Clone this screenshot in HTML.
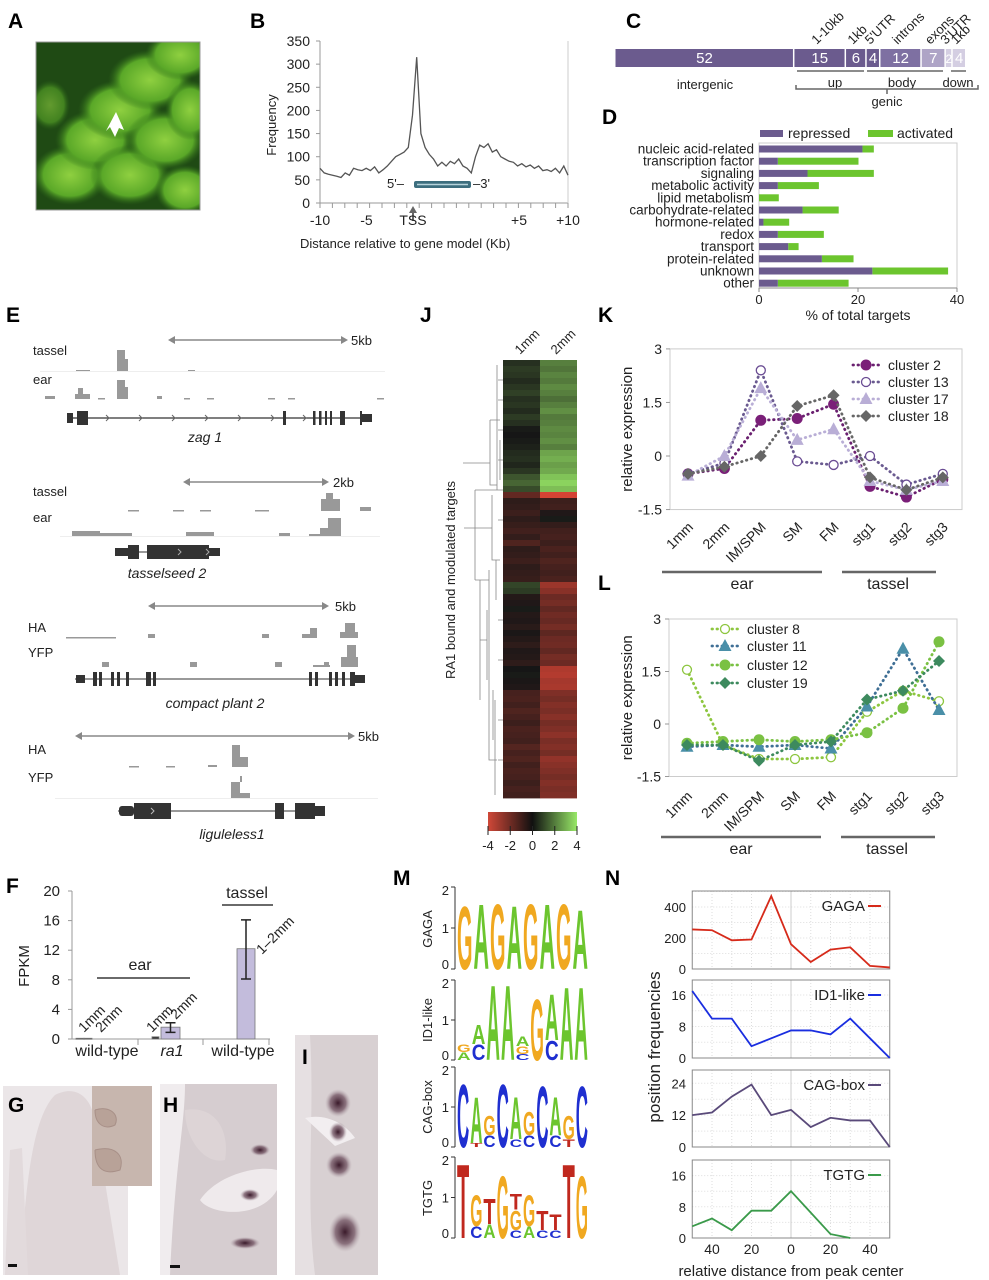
<!DOCTYPE html>
<html><head><meta charset="utf-8">
<style>
body{margin:0;background:#fff}
svg{display:block;font-family:"Liberation Sans",sans-serif}
.pl{font-weight:bold;font-size:21px;fill:#000}
.t{font-size:13px;fill:#222}
.it{font-size:14px;fill:#222;font-style:italic}
</style></head><body>
<svg id="fig" width="989" height="1280" viewBox="0 0 989 1280">
<defs>
<radialGradient id="gblob" cx="50%" cy="50%" r="50%"><stop offset="0" stop-color="#8fd040"/><stop offset="0.7" stop-color="#5aa828"/><stop offset="1" stop-color="#2d6a18" stop-opacity="0"/></radialGradient>
<linearGradient id="cbar" x1="0" x2="1" y1="0" y2="0"><stop offset="0" stop-color="#d04838"/><stop offset="0.5" stop-color="#101010"/><stop offset="1" stop-color="#98e868"/></linearGradient>
<radialGradient id="spot" cx="50%" cy="50%" r="50%"><stop offset="0" stop-color="#3a1a2a"/><stop offset="0.6" stop-color="#6a4a5a" stop-opacity="0.7"/><stop offset="1" stop-color="#b0a0a8" stop-opacity="0"/></radialGradient>
<clipPath id="clipA"><rect x="36" y="42" width="164" height="168"/></clipPath>
</defs>

<!-- Panel labels -->
<text class="pl" x="8" y="28">A</text>
<text class="pl" x="250" y="28">B</text>
<text class="pl" x="626" y="28">C</text>
<text class="pl" x="602" y="124">D</text>
<text class="pl" x="6" y="322">E</text>
<text class="pl" x="420" y="322">J</text>
<text class="pl" x="598" y="322">K</text>
<text class="pl" x="598" y="590">L</text>
<text class="pl" x="6" y="893">F</text>
<text class="pl" x="393" y="885">M</text>
<text class="pl" x="605" y="885">N</text>

<!-- Panel A image -->
<g>
<rect x="36" y="42" width="164" height="168" fill="#1f4a14"/>
<g clip-path="url(#clipA)">
<ellipse cx="70" cy="175" rx="38" ry="30" fill="url(#gblob)"/>
<ellipse cx="95" cy="140" rx="40" ry="30" fill="url(#gblob)"/>
<ellipse cx="120" cy="110" rx="42" ry="30" fill="url(#gblob)"/>
<ellipse cx="150" cy="80" rx="42" ry="30" fill="url(#gblob)"/>
<ellipse cx="180" cy="55" rx="35" ry="25" fill="url(#gblob)"/>
<ellipse cx="130" cy="175" rx="40" ry="30" fill="url(#gblob)"/>
<ellipse cx="165" cy="140" rx="40" ry="30" fill="url(#gblob)"/>
<ellipse cx="190" cy="110" rx="25" ry="30" fill="url(#gblob)"/>
<ellipse cx="185" cy="190" rx="30" ry="25" fill="url(#gblob)"/>
<ellipse cx="50" cy="105" rx="20" ry="25" fill="url(#gblob)" opacity="0.6"/>
</g>
<path d="M116,112 L124,130 L119,128 L115,137 L110,127 L106,131 Z" fill="#fff"/>
<rect x="36" y="42" width="164" height="168" fill="none" stroke="#999" stroke-width="1"/>
</g>

<!-- Panel B static -->
<g id="gB">
<text class="t" font-size="16" transform="translate(276,125) rotate(-90)" text-anchor="middle">Frequency</text>
<text class="t" font-size="16" x="300" y="248">Distance relative to gene model (Kb)</text>
<text class="t" x="404" y="188" text-anchor="end">5'–</text>
<text class="t" x="473" y="188">–3'</text>
<rect x="414" y="181" width="57" height="7" rx="2" fill="#3d6e7e"/>
<line x1="417" y1="184.5" x2="468" y2="184.5" stroke="#b8d4dc" stroke-width="1.5"/>
<path d="M413,206 l-4,7 h3 v8 h2 v-8 h3 z" fill="#666"/>
</g>

<!-- Panel C static labels -->
<g id="gC">
<text class="t" x="705" y="89" text-anchor="middle" font-size="14">intergenic</text>
<line x1="797" y1="71" x2="864" y2="71" stroke="#666" stroke-width="1.5"/>
<line x1="867" y1="71" x2="943" y2="71" stroke="#666" stroke-width="1.5"/>
<line x1="951" y1="71" x2="966" y2="71" stroke="#666" stroke-width="1.5"/>
<text class="t" x="835" y="87" text-anchor="middle" font-size="14">up</text>
<text class="t" x="902" y="87" text-anchor="middle" font-size="14">body</text>
<text class="t" x="958" y="87" text-anchor="middle" font-size="14">down</text>
<path d="M796,85 v4 H978 v-4 M887,89 v5" fill="none" stroke="#666" stroke-width="1.5"/>
<text class="t" x="887" y="106" text-anchor="middle" font-size="14">genic</text>
</g>

<!-- Panel E -->
<g fill="#999">
<g>
<line x1="172" y1="340" x2="344" y2="340" stroke="#888" stroke-width="1.5"/>
<path d="M168,340 l7,-4 v8 z M348,340 l-7,-4 v8 z" fill="#888"/>
<text class="t" x="351" y="345" font-size="14">5kb</text>
<text class="t" x="33" y="355" font-size="14">tassel</text>
<text class="t" x="33" y="384" font-size="14">ear</text>
<rect x="117" y="350" width="8" height="21"/><rect x="125" y="359" width="3" height="12"/>
<rect x="76" y="370" width="14" height="1.5"/><rect x="188" y="370" width="7" height="1.5"/>
<line x1="40" y1="371.5" x2="385" y2="371.5" stroke="#eee"/>
<rect x="117" y="380" width="8" height="19"/><rect x="125" y="387" width="3" height="12"/>
<rect x="78" y="388" width="5" height="11"/><rect x="75" y="394" width="15" height="5"/>
<rect x="45" y="396" width="10" height="3"/><rect x="157" y="396" width="5" height="3"/>
<rect x="98" y="398" width="7" height="1.5"/><rect x="184" y="398" width="6" height="1.5"/><rect x="207" y="398" width="7" height="1.5"/><rect x="268" y="398" width="7" height="1.5"/><rect x="288" y="398" width="7" height="1.5"/><rect x="377" y="398" width="7" height="1.5"/>
<g fill="#333">
<line x1="67" y1="418" x2="372" y2="418" stroke="#333" stroke-width="1.2"/>
<rect x="67" y="413" width="6" height="10"/><rect x="77" y="411" width="11" height="14"/>
<rect x="283" y="411" width="3" height="14"/>
<rect x="313" y="411" width="2.5" height="14"/><rect x="319" y="411" width="2.5" height="14"/><rect x="325" y="411" width="2" height="14"/><rect x="330" y="411" width="2" height="14"/>
<rect x="340" y="411" width="5" height="14"/><rect x="360" y="411" width="2" height="14"/><rect x="362" y="414" width="10" height="8"/>
</g>
<g fill="none" stroke="#666" stroke-width="1"><path d="M106,415 l3,3 l-3,3 M139,415 l3,3 l-3,3 M172,415 l3,3 l-3,3 M205,415 l3,3 l-3,3 M238,415 l3,3 l-3,3 M271,415 l3,3 l-3,3 M303,415 l3,3 l-3,3"/></g>
<text class="it" x="205" y="442" text-anchor="middle" font-size="15">zag 1</text>
</g>
<g>
<line x1="187" y1="482" x2="324" y2="482" stroke="#888" stroke-width="1.5"/>
<path d="M183,482 l7,-4 v8 z M329,482 l-7,-4 v8 z" fill="#888"/>
<text class="t" x="333" y="487" font-size="14">2kb</text>
<text class="t" x="33" y="496" font-size="14">tassel</text>
<text class="t" x="33" y="522" font-size="14">ear</text>
<rect x="321" y="499" width="19" height="12"/><rect x="326" y="493" width="7" height="6"/>
<rect x="360" y="507" width="11" height="4"/>
<rect x="128" y="510" width="11" height="1.5"/><rect x="173" y="510" width="11" height="1.5"/><rect x="200" y="510" width="11" height="1.5"/><rect x="255" y="510" width="14" height="1.5"/>
<rect x="328" y="518" width="13" height="18"/><rect x="320" y="528" width="8" height="8"/><rect x="309" y="534" width="11" height="2"/>
<rect x="72" y="531" width="28" height="5"/><rect x="100" y="533" width="32" height="3"/>
<rect x="186" y="532" width="28" height="4"/><rect x="279" y="533" width="11" height="3"/>
<line x1="60" y1="536.5" x2="380" y2="536.5" stroke="#eee"/>
<g fill="#333"><line x1="115" y1="552" x2="220" y2="552" stroke="#333"/>
<rect x="115" y="548" width="13" height="8"/><rect x="128" y="545" width="11" height="14"/><rect x="147" y="545" width="62" height="14"/><rect x="209" y="548" width="11" height="8"/></g>
<path d="M178,549 l3,3 l-3,3 M206,549 l3,3 l-3,3" stroke="#aaa" fill="none"/>
<text class="it" x="167" y="578" text-anchor="middle" font-size="15">tasselseed 2</text>
</g>
<g>
<line x1="152" y1="606" x2="324" y2="606" stroke="#888" stroke-width="1.5"/>
<path d="M148,606 l7,-4 v8 z M329,606 l-7,-4 v8 z" fill="#888"/>
<text class="t" x="335" y="611" font-size="14">5kb</text>
<text class="t" x="28" y="632" font-size="14">HA</text>
<text class="t" x="28" y="657" font-size="14">YFP</text>
<rect x="148" y="634" width="7" height="4"/><rect x="262" y="634" width="7" height="4"/><rect x="302" y="634" width="15" height="4"/><rect x="310" y="628" width="7" height="10"/><rect x="340" y="632" width="18" height="6"/><rect x="345" y="623" width="10" height="9"/>
<rect x="66" y="637" width="50" height="1.5"/>
<rect x="102" y="662" width="7" height="5"/><rect x="190" y="662" width="7" height="5"/><rect x="275" y="662" width="7" height="5"/><rect x="313" y="665" width="17" height="2"/><rect x="324" y="662" width="5" height="5"/><rect x="341" y="657" width="17" height="10"/><rect x="347" y="645" width="9" height="12"/>
<g fill="#333"><line x1="75" y1="679" x2="365" y2="679" stroke="#333"/>
<rect x="76" y="675" width="9" height="8"/><rect x="93" y="672" width="4" height="14"/><rect x="99" y="672" width="3" height="14"/><rect x="111" y="672" width="3" height="14"/><rect x="117" y="672" width="3" height="14"/><rect x="126" y="672" width="3" height="14"/><rect x="146" y="672" width="5" height="14"/><rect x="153" y="672" width="3" height="14"/>
<rect x="309" y="672" width="3" height="14"/><rect x="315" y="672" width="3" height="14"/><rect x="329" y="672" width="3" height="14"/><rect x="335" y="672" width="3" height="14"/><rect x="342" y="672" width="3" height="14"/><rect x="350" y="672" width="5" height="14"/><rect x="355" y="675" width="10" height="8"/></g>
<text class="it" x="215" y="708" text-anchor="middle" font-size="15">compact plant 2</text>
</g>
<g>
<line x1="80" y1="736" x2="350" y2="736" stroke="#888" stroke-width="1.5"/>
<path d="M75,736 l7,-4 v8 z M355,736 l-7,-4 v8 z" fill="#888"/>
<text class="t" x="358" y="741" font-size="14">5kb</text>
<text class="t" x="28" y="754" font-size="14">HA</text>
<text class="t" x="28" y="782" font-size="14">YFP</text>
<rect x="232" y="745" width="8" height="22"/><rect x="240" y="757" width="8" height="10"/>
<rect x="129" y="766" width="10" height="1.5"/><rect x="166" y="766" width="9" height="1.5"/><rect x="208" y="765" width="9" height="2"/>
<rect x="231" y="782" width="9" height="16"/><rect x="240" y="776" width="2" height="6"/><rect x="240" y="793" width="10" height="5"/>
<line x1="55" y1="798.5" x2="378" y2="798.5" stroke="#eee"/>
<g fill="#333"><line x1="118" y1="811" x2="325" y2="811" stroke="#333"/>
<rect x="119" y="806" width="15" height="10" rx="3"/><rect x="134" y="803" width="37" height="16"/><rect x="275" y="803" width="9" height="16"/><rect x="295" y="803" width="20" height="16"/><rect x="315" y="806" width="10" height="10"/></g>
<path d="M151,808 l3,3 l-3,3" stroke="#bbb" fill="none"/>
<text class="it" x="232" y="839" text-anchor="middle" font-size="15">liguleless1</text>
</g>
</g>

<!-- Panel J static -->
<g>
<text class="t" font-size="14" transform="translate(520,355) rotate(-45)">1mm</text>
<text class="t" font-size="14" transform="translate(556,355) rotate(-45)">2mm</text>
<text class="t" font-size="15" transform="translate(455,580) rotate(-90)" text-anchor="middle">RA1 bound and modulated targets</text>
<g fill="none" stroke="#888" stroke-width="0.8">
<path d="M463,463 H490 M490,420 V485 H497 M490,420 H500 M475,490 H503 M475,490 V580 M464,528 H475 M475,528 H492 M492,495 V560 H500 M475,580 H489 M489,570 V760 H497 M480,580 V700 M480,640 H487 M487,610 V680"/>
<path d="M497,365 V490 M500,440 V480 M496,560 V600 M495,700 V795 M493,690 V740 M498,380 H503 M498,400 H503 M498,430 H503 M498,460 H503 M498,520 H503 M498,620 H503 M498,660 H503 M498,720 H503 M498,760 H503"/>
</g>
<rect x="488" y="812" width="89" height="19" fill="url(#cbar)"/>
</g>

<!-- Panel M static labels -->
<g id="gM">
<text class="t" font-size="17" transform="translate(432,929) rotate(-90)" text-anchor="middle">GAGA</text>
<text class="t" font-size="17" transform="translate(432,1020) rotate(-90)" text-anchor="middle">ID1-like</text>
<text class="t" font-size="17" transform="translate(432,1107) rotate(-90)" text-anchor="middle">CAG-box</text>
<text class="t" font-size="17" transform="translate(432,1198) rotate(-90)" text-anchor="middle">TGTG</text>
</g>

<!-- Photos G, H, I -->
<g>
<rect x="3" y="1086" width="125" height="189" fill="#ebe6e8"/>
<path d="M20,1275 C25,1200 30,1120 55,1095 C75,1085 90,1095 95,1120 L120,1275 Z" fill="#dfd6d8"/>
<path d="M5,1275 L10,1150 L22,1148 L28,1275Z" fill="#e2dadc"/>
<rect x="92" y="1086" width="60" height="100" fill="#c7b6ae"/>
<path d="M95,1110 c15,-5 25,5 20,15 c-10,5 -20,0 -20,-15 M95,1150 c20,-5 30,5 25,20 c-15,5 -25,0 -25,-20" fill="#b8a298" stroke="#a89088"/>
<rect x="8" y="1264" width="9" height="3" fill="#111"/>
<text class="pl" x="8" y="1112" font-size="22">G</text>
</g>
<g>
<rect x="160" y="1084" width="117" height="191" fill="#d6cdd0"/>
<path d="M160,1084 h25 c0,40 -10,80 -15,191 h-10z" fill="#f0ecee"/>
<path d="M185,1110 c30,-5 45,20 40,50 c-20,5 -40,-20 -40,-50z" fill="#ddd4d6"/>
<path d="M200,1200 c10,15 60,20 77,-10 v-20 c-20,-5 -60,5 -77,30z" fill="#efeaec"/>
<ellipse cx="260" cy="1150" rx="10" ry="6" fill="url(#spot)"/>
<ellipse cx="250" cy="1195" rx="10" ry="6" fill="url(#spot)"/>
<ellipse cx="245" cy="1243" rx="15" ry="6" fill="url(#spot)"/>
<rect x="170" y="1265" width="10" height="3" fill="#111"/>
<text class="pl" x="163" y="1112" font-size="22">H</text>
</g>
<g>
<rect x="295" y="1035" width="83" height="240" fill="#d8d0d2"/>
<path d="M295,1035 h15 c5,80 -5,160 5,240 h-20z" fill="#e6e0e2"/>
<path d="M305,1118 c20,-5 40,5 50,20 l-20,8z" fill="#f2eef0"/>
<ellipse cx="338" cy="1103" rx="13" ry="14" fill="url(#spot)"/>
<ellipse cx="338" cy="1132" rx="9" ry="10" fill="url(#spot)"/>
<ellipse cx="339" cy="1165" rx="13" ry="13" fill="url(#spot)"/>
<ellipse cx="345" cy="1232" rx="16" ry="20" fill="url(#spot)"/>
<text class="pl" x="302" y="1064" font-size="22">I</text>
</g>

</svg>
<script>
// ===== DATA =====
const bFreq=[75,65,62,60,58,55,65,60,75,72,70,75,70,78,65,72,80,90,100,105,110,120,190,315,150,120,105,95,80,88,80,90,85,95,80,75,65,100,125,120,128,110,115,100,95,90,88,80,85,78,82,75,80,70,72,68,75,65,80,60];
const bYTicks=[0,50,100,150,200,250,300,350];
const bXTickLabels=["-10","-5","TSS","+5","+10"];
const bXTickKb=[-10,-5,0,5,10];
const cValues=[52,15,6,4,12,7,2,4];
const cLabels=["","1-10kb","1kb","5'UTR","introns","exons","3'UTR","1kb"];
const cColors=["#6b5b8e","#6b5b8e","#6b5b8e","#6b5b8e","#7e70a2","#aea4c6","#d4cee2","#d4cee2"];
const dCategories=["nucleic acid-related","transcription factor","signaling","metabolic activity","lipid metabolism","carbohydrate-related","hormone-related","redox","transport","protein-related","unknown","other"];
const dRepressed=[20.9,3.8,9.8,3.8,0,8.8,0.9,3.8,5.9,12.7,22.9,3.8];
const dTotal=[23.2,20.1,23.2,12.1,4.0,16.1,6.1,13.1,8.0,19.1,38.2,18.1];
const dTicks=[0,20,40];
const fLabels=["wt 1mm","wt 2mm","ra1 1mm","ra1 2mm","tassel 1-2mm"];
const fValues=[0.1,0.1,0.3,1.6,12.2];
const fErrLow=[null,null,null,0.9,8.1];
const fErrHigh=[null,null,null,2.2,16.1];
const fTicks=[0,4,8,12,16,20];
const j1mm=[0.5,0.7,0.6,0.4,0.6,0.8,0.5,0.6,0.4,0.7,0.5,0.1,0.0,0.1,0.2,0.4,0.5,0.3,0.6,1.2,1.5,1.0,-1.6,-0.5,-0.6,-0.8,-0.5,-0.7,-0.9,-0.6,-1.2,-0.5,-0.6,-0.8,-0.5,-0.6,-0.7,0.9,0.7,-0.3,-0.2,0.1,-0.3,-0.2,-0.4,-0.1,-0.3,-0.5,-0.2,-0.3,-0.5,0.0,0.1,-0.1,-0.2,-1.0,-1.1,-0.9,-1.2,-1.0,-0.8,-1.1,-1.0,-0.9,-1.3,-1.0,-1.2,-0.9,-1.1,-1.0,-0.8,-1.0,-0.9];
const j2mm=[2.0,1.8,2.1,1.9,2.2,2.0,1.7,2.0,2.3,1.9,2.0,2.2,2.1,2.3,2.0,2.7,2.9,2.6,2.8,3.3,3.6,3.2,-4.0,-0.8,-0.9,-0.2,0.1,-0.6,-0.9,-1.0,-0.8,-1.1,-0.9,-1.2,-1.0,-0.9,-1.1,-2.8,-2.4,-1.8,-2.0,-1.6,-1.9,-1.7,-2.0,-1.5,-1.8,-1.9,-1.6,-2.0,-1.8,-3.2,-3.3,-3.0,-3.1,-2.2,-2.0,-2.3,-2.1,-2.4,-2.0,-2.2,-2.5,-2.1,-2.3,-2.0,-2.6,-2.4,-2.2,-2.0,-2.3,-2.1,-2.2];
const jTicks=[-4,-2,0,2,4];
const kCats=["1mm","2mm","IM/SPM","SM","FM","stg1","stg2","stg3"];
const kC2=[-0.5,-0.35,1.0,1.05,1.45,-0.85,-1.15,-0.65];
const kC13=[-0.5,-0.2,2.4,-0.15,-0.25,0.0,-0.8,-0.5];
const kC17=[-0.55,0.0,1.9,0.45,0.75,-0.7,-0.95,-0.7];
const kC18=[-0.5,-0.3,0.0,1.4,1.7,-0.6,-0.95,-0.6];
const kTicks=[3,1.5,0,-1.5];
const lC8=[1.55,-0.6,-1.0,-1.0,-0.95,0.35,0.95,0.65];
const lC11=[-0.65,-0.6,-0.65,-0.6,-0.7,0.5,2.15,0.4];
const lC12=[-0.55,-0.5,-0.45,-0.5,-0.45,-0.25,0.45,2.35];
const lC19=[-0.6,-0.6,-1.05,-0.6,-0.5,0.7,0.95,1.8];
const mGAGA=[[["G",1.6]],[["A",1.65]],[["G",1.65]],[["A",1.6]],[["G",1.65]],[["A",1.65]],[["G",1.65]],[["A",1.5]]];
const mID1=[[["A",0.2],["G",0.2]],[["C",0.4],["A",0.5]],[["A",1.95]],[["A",1.95]],[["C",0.15],["G",0.2],["A",0.25]],[["G",1.6]],[["C",0.5],["A",1.2]],[["A",1.9]],[["A",1.9]]];
const mCAG=[[["C",1.65]],[["T",0.1],["A",1.2]],[["C",0.3],["G",0.5]],[["C",1.65]],[["C",0.2],["A",1.1]],[["C",0.3],["G",0.6]],[["C",1.6]],[["C",0.3],["A",1.0]],[["T",0.2],["G",0.6]],[["C",1.6]]];
const mTGTG=[[["T",1.9]],[["C",0.3],["G",0.8]],[["A",0.35],["T",0.65]],[["G",1.6]],[["C",0.2],["G",0.5],["T",0.4]],[["A",0.3],["G",0.8]],[["C",0.2],["T",0.5]],[["C",0.2],["T",0.4]],[["T",1.9]],[["G",1.6]]];
const nDist=[-50,-40,-30,-20,-10,0,10,20,30,40,50];
const nGAGA=[255,250,185,190,470,160,45,125,140,20,10];
const nID1=[17,10,10,3,5,7,7,6,10,5,0];
const nCAG=[12,13,19,23.5,12,14,7.5,11,10,10,0];
const nTGTG=[3,5,2,7,7,12,6.5,1,0];
const nXTicks=[-40,-20,0,20,40];

// ===== HELPERS =====
const NS='http://www.w3.org/2000/svg';
const svg=document.getElementById('fig');
function mk(t,a,p){const e=document.createElementNS(NS,t);for(const k in a)e.setAttribute(k,a[k]);(p||svg).appendChild(e);return e;}
function tx(x,y,s,a,p){const e=mk('text',Object.assign({x:x,y:y,'font-size':13,fill:'#222'},a||{}),p);e.textContent=s;return e;}
function grp(){return mk('g',{});}

// ===== PANEL B =====
(function(){
const g=document.getElementById('gB');
const x0=320,x1=568,yB=v=>203-v*(162/350);
const xKb=k=> k<=0 ? 413+(k/10)*93 : 470+(k/10)*98;
let e=mk('line',{x1:x0,y1:41,x2:x0,y2:203,stroke:'#999'},g);


e=mk('line',{x1:x0,y1:203,x2:x1,y2:203,stroke:'#999'},g);


e=mk('line',{x1:x1,y1:41,x2:x1,y2:203,stroke:'#ccc'},g);


for(const v of bYTicks){
 e=tx(310,yB(v)+5,String(v),{'text-anchor':'end','font-size':14},g);
 
 
 mk('line',{x1:x0-4,y1:yB(v),x2:x0,y2:yB(v),stroke:'#999'},g);
}
for(let i=0;i<=20;i++){mk('line',{x1:x0+i*12.4,y1:203,x2:x0+i*12.4,y2:208,stroke:'#999'},g);}
bXTickLabels.forEach((s,i)=>{
 e=tx(xKb(bXTickKb[i]),225,s,{'text-anchor':'middle','font-size':14},g);
 
 
});
const step=(x1-x0)/(bFreq.length-1);
const pts=bFreq.map((v,i)=>(x0+i*step).toFixed(1)+','+yB(v).toFixed(1)).join(' ');
e=mk('polyline',{points:pts,fill:'none',stroke:'#555','stroke-width':1.3},g);


})();

// ===== PANEL C =====
(function(){
const g=document.getElementById('gC');
const tot=cValues.reduce((a,b)=>a+b,0);
const sc=351/tot;let x=615;
cValues.forEach((v,i)=>{
 const w=v*sc;
 let r=mk('rect',{x:x+0.5,y:49,width:w-1.5,height:18,fill:cColors[i]},g);
 
 
 let t=tx(x+w/2,63,String(v),{'text-anchor':'middle',fill:'#fff','font-size':w<12?12:15},g);
 
 
 if(cLabels[i]){
  let l=tx(x+w/2-3,45,cLabels[i],{'font-size':13,transform:'rotate(-45 '+(x+w/2-3)+' 45)'},g);
  
  
 }
 x+=w;
});
})();

// ===== PANEL D =====
(function(){
const g=grp();


const xD=v=>759+v*(198/40), yD=i=>149+i*12.2;
let e=mk('rect',{x:759,y:143,width:198,height:145,fill:'none',stroke:'#ccc'},g);


e=mk('line',{x1:759,y1:288,x2:957,y2:288,stroke:'#888'},g);


e=mk('rect',{x:760,y:130,width:23,height:7,fill:'#6b5b8e'},g);


e=tx(788,138,'repressed',{'font-size':14},g);


e=mk('rect',{x:868,y:130,width:25,height:7,fill:'#6cc52e'},g);


e=tx(897,138,'activated',{'font-size':14},g);


dCategories.forEach((c,i)=>{
 const y=yD(i);
 let t=tx(754,y+4.5,c,{'text-anchor':'end','font-size':13.5},g);
 
 
 let a=mk('rect',{x:xD(dRepressed[i]),y:y-3.5,width:Math.max(0,xD(dTotal[i])-xD(dRepressed[i])),height:7,fill:'#6cc52e'},g);
 
 
 let r=mk('rect',{x:xD(0),y:y-3.5,width:xD(dRepressed[i])-xD(0),height:7,fill:'#6b5b8e'},g);
 
 
});
dTicks.forEach(v=>{
 mk('line',{x1:xD(v),y1:288,x2:xD(v),y2:292,stroke:'#888'},g);
 let t=tx(xD(v),304,String(v),{'text-anchor':'middle','font-size':13},g);
 
 
});
e=tx(858,320,'% of total targets',{'text-anchor':'middle','font-size':14},g);


})();

// ===== PANEL F =====
(function(){
const g=grp();


const yF=v=>1039-v*(148/20);
const barX=[76,84,152,161,237], barW=[8,8,7,19,18];
let e=mk('line',{x1:72,y1:891,x2:72,y2:1039,stroke:'#999'},g);


e=mk('line',{x1:72,y1:1039,x2:270,y2:1039,stroke:'#999'},g);


[138,203,269].forEach(x=>mk('line',{x1:x,y1:1039,x2:x,y2:1045,stroke:'#999'},g));
fTicks.forEach(v=>{
 mk('line',{x1:68,y1:yF(v),x2:72,y2:yF(v),stroke:'#999'},g);
 let t=tx(60,yF(v)+5,String(v),{'text-anchor':'end','font-size':15},g);
 
 
});
e=tx(0,0,'FPKM',{'font-size':15,transform:'translate(29,966) rotate(-90)','text-anchor':'middle'},g);


fValues.forEach((v,i)=>{
 let r=mk('rect',{x:barX[i],y:yF(v),width:barW[i],height:Math.max(1,yF(0)-yF(v)),fill:i<2?'#444':(i==2?'#333':'#c3bcdc'),stroke:'#777','stroke-width':0.8},g);
 
 
 if(fErrLow[i]!==null){
  const cx=barX[i]+barW[i]/2;
  let p=mk('path',{d:`M${cx},${yF(fErrLow[i])}V${yF(fErrHigh[i])}M${cx-5},${yF(fErrLow[i])}h10M${cx-5},${yF(fErrHigh[i])}h10`,stroke:'#222','stroke-width':1.5,fill:'none'},g);
  
  
 }
});
[['1mm',84,1033],['2mm',101,1033],['1mm',152,1033],['2mm',176,1020],['1–2mm',262,955]].forEach(a=>{
 let t=tx(a[1],a[2],a[0],{'font-size':14,transform:`rotate(-45 ${a[1]} ${a[2]})`},g);
 
 
});
mk('line',{x1:97,y1:978,x2:190,y2:978,stroke:'#555','stroke-width':1.8},g);
mk('line',{x1:222,y1:905,x2:273,y2:905,stroke:'#555','stroke-width':1.8},g);
e=tx(140,970,'ear',{'text-anchor':'middle','font-size':16},g);


e=tx(247,898,'tassel',{'text-anchor':'middle','font-size':16},g);


[['wild-type',107,false],['ra1',172,true],['wild-type',243,false]].forEach(a=>{
 let t=tx(a[1],1056,a[0],{'text-anchor':'middle','font-size':16,'font-style':a[2]?'italic':'normal'},g);
 
 
});
})();

// ===== PANEL J HEATMAP =====
(function(){
const g=grp();


const n=Math.min(j1mm.length,j2mm.length);
const top=360,bot=798,rh=(bot-top)/n;
function col(v){const t=Math.max(-1,Math.min(1,v/4));
 if(t>=0)return `rgb(${Math.round(22+t*130)},${Math.round(22+t*210)},${Math.round(22+t*80)})`;
 return `rgb(${Math.round(22-t*190)},${Math.round(22-t*45)},${Math.round(22-t*30)})`;}
for(let i=0;i<n;i++){
 let a=mk('rect',{x:503,y:top+i*rh,width:37.2,height:rh+0.4,fill:col(j1mm[i])},g);
 
 
 let b=mk('rect',{x:540,y:top+i*rh,width:37,height:rh+0.4,fill:col(j2mm[i])},g);
 
 
}
jTicks.forEach(v=>{
 const x=488+(v+4)/8*89;
 mk('line',{x1:x,y1:826,x2:x,y2:835,stroke:'#222'},g);
 let t=tx(x,850,String(v),{'text-anchor':'middle','font-size':13},g);
 
 
});
})();

// ===== PANELS K & L =====
function lineChart(cfg){
 const g=grp();
 
 
 const yS=v=>cfg.y0-v*cfg.ppu, xS=i=>cfg.xs0+i*cfg.xstep;
 let e=mk('rect',{x:cfg.left,y:yS(3),width:cfg.right-cfg.left,height:yS(-1.5)-yS(3),fill:'none',stroke:'#ccc'},g);
 
 
 kTicks.forEach(v=>{
  mk('line',{x1:cfg.left-4,y1:yS(v),x2:cfg.left,y2:yS(v),stroke:'#999'},g);
  let t=tx(cfg.left-8,yS(v)+5,String(v),{'text-anchor':'end','font-size':14},g);
  
  
 });
 e=tx(0,0,'relative expression',{'font-size':15,'text-anchor':'middle',transform:`translate(632,${(yS(3)+yS(-1.5))/2}) rotate(-90)`},g);
 
 
 kCats.forEach((c,i)=>{
  const x=xS(i)+6,y=cfg.labY;
  let t=tx(x,y,c,{'text-anchor':'end','font-size':14,transform:`rotate(-45 ${x} ${y})`},g);
  
  
 });
 mk('line',{x1:cfg.left-8,y1:cfg.grpY,x2:cfg.left+152,y2:cfg.grpY,stroke:'#666','stroke-width':2.5},g);
 mk('line',{x1:cfg.left+172,y1:cfg.grpY,x2:cfg.left+266,y2:cfg.grpY,stroke:'#666','stroke-width':2.5},g);
 e=tx(cfg.left+72,cfg.grpY+17,'ear',{'text-anchor':'middle','font-size':16},g);
 
 
 e=tx(cfg.left+218,cfg.grpY+17,'tassel',{'text-anchor':'middle','font-size':16},g);
 
 
 function marker(type,x,y,color,parent){
  let m;
  if(type==='dot')m=mk('circle',{cx:x,cy:y,r:5.5,fill:color},parent);
  else if(type==='open')m=mk('circle',{cx:x,cy:y,r:4.5,fill:'#fff',stroke:color,'stroke-width':1.3},parent);
  else if(type==='tri')m=mk('path',{d:`M${x},${y-7}L${x+6.5},${y+5}L${x-6.5},${y+5}Z`,fill:color},parent);
  else m=mk('path',{d:`M${x},${y-6}L${x+6},${y}L${x},${y+6}L${x-6},${y}Z`,fill:color},parent);
  return m;
 }
 cfg.series.forEach((s,k)=>{
  const pts=s.vals.map((v,i)=>xS(i)+','+yS(v)).join(' ');
  let l=mk('polyline',{points:pts,fill:'none',stroke:s.line,'stroke-width':2.8,'stroke-dasharray':'0.5 4.5','stroke-linecap':'round'},g);
  
  
  s.vals.forEach((v,i)=>{
   let m=marker(s.type,xS(i),yS(v),s.color,g);
   
   
  });
  const ly=cfg.legY[k];
  let ll=mk('line',{x1:cfg.legX-13,y1:ly,x2:cfg.legX+13,y2:ly,stroke:s.line,'stroke-width':2.8,'stroke-dasharray':'0.5 4.5','stroke-linecap':'round'},g);
  
  
  let lm=marker(s.type,cfg.legX,ly,s.color,g);
  
  
  let lt=tx(cfg.legX+22,ly+5,s.label,{'font-size':14},g);
  
  
 });
}
lineChart({name:'panel-k-chart',left:670,right:962,y0:456,ppu:35.7,xs0:688,xstep:36.4,labY:528,grpY:572,legX:866,legY:[365,382,399,416],
 series:[
  {label:'cluster 2',vals:kC2,type:'dot',color:'#7a1f78',line:'#6a2070'},
  {label:'cluster 13',vals:kC13,type:'open',color:'#6a4c93',line:'#6a5a90'},
  {label:'cluster 17',vals:kC17,type:'tri',color:'#b9aed6',line:'#b9aed6'},
  {label:'cluster 18',vals:kC18,type:'dia',color:'#666',line:'#666'}]});
lineChart({name:'panel-l-chart',left:669,right:957,y0:724,ppu:35,xs0:687,xstep:36,labY:797,grpY:837,legX:725,legY:[629,646,665,683],
 series:[
  {label:'cluster 8',vals:lC8,type:'open',color:'#8dc63f',line:'#8dc63f'},
  {label:'cluster 11',vals:lC11,type:'tri',color:'#4a8fa8',line:'#3f6f95'},
  {label:'cluster 12',vals:lC12,type:'dot',color:'#7ac143',line:'#7ac143'},
  {label:'cluster 19',vals:lC19,type:'dia',color:'#3d8a5e',line:'#3d8a5e'}]});

// ===== PANEL M LOGOS =====
(function(){
const g=document.getElementById('gM');
const colors={A:'#6cc52e',C:'#1f2fd0',G:'#f0a820',T:'#c0281e'};
const motifs=[{d:mGAGA,base:969,top:887},{d:mID1,base:1060,top:980},{d:mCAG,base:1147,top:1067},{d:mTGTG,base:1238,top:1157}];
motifs.forEach((m,mi)=>{
 const ppb=(m.base-m.top)/2;
 let a=mk('path',{d:`M455,${m.top}V${m.base}M451,${m.top}h4M451,${(m.top+m.base)/2}h4M451,${m.base}h4`,stroke:'#333',fill:'none'},g);
 
 
 ['2','1','0'].forEach((s,k)=>{
  let t=tx(449,m.top+k*ppb+(k==0?8:k==2?0:5),s,{'text-anchor':'end','font-size':13},g);
  
  
 });
 const w=132/m.d.length;
 m.d.forEach((colm,ci)=>{
  let y=m.base;
  const x=457+ci*w;
  colm.forEach(([L,h])=>{
   const hp=h*ppb, sy=hp/7.3;
   let t=mk('text',{x:0,y:0,'font-size':10,'font-weight':'bold',fill:colors[L],textLength:w-1,lengthAdjust:'spacingAndGlyphs',transform:`translate(${x.toFixed(1)},${y.toFixed(1)}) scale(1,${sy.toFixed(3)})`},g);
   t.textContent=L;
   
   
   y-=hp;
  });
 });
});
})();

// ===== PANEL N =====
(function(){
const g=grp();


const xN=d=>791+d*1.975;
const subs=[
 {name:'GAGA',vals:nGAGA,color:'#d62a1a',top:891,bot:969,max:503,ticks:[0,200,400]},
 {name:'ID1-like',vals:nID1,color:'#1a2ee0',top:980,bot:1058,max:19.8,ticks:[0,8,16]},
 {name:'CAG-box',vals:nCAG,color:'#5a4a7a',top:1070,bot:1147,max:29,ticks:[0,12,24]},
 {name:'TGTG',vals:nTGTG,color:'#3a9a4a',top:1160,bot:1238,max:20,ticks:[0,8,16]}];
subs.forEach(s=>{
 const yS=v=>s.bot-v*(s.bot-s.top)/s.max;
 for(let d=-40;d<=40;d+=10){mk('line',{x1:xN(d),y1:s.top,x2:xN(d),y2:s.bot,stroke:d==0?'#ccc':'#ddd','stroke-dasharray':d==0?'':'1 2'},g);}
 const st=s.ticks[1]/2;
 for(let v=st;v<s.max;v+=st){mk('line',{x1:xN(-50),y1:yS(v),x2:xN(50),y2:yS(v),stroke:'#ddd','stroke-dasharray':'1 2'},g);}
 let f=mk('rect',{x:xN(-50),y:s.top,width:xN(50)-xN(-50),height:s.bot-s.top,fill:'none',stroke:'#888'},g);
 
 
 s.ticks.forEach(v=>{
  let t=tx(686,yS(v)+5,String(v),{'text-anchor':'end','font-size':13},g);
  
  
 });
 const pts=s.vals.map((v,i)=>xN(nDist[i])+','+yS(v)).join(' ');
 let l=mk('polyline',{points:pts,fill:'none',stroke:s.color,'stroke-width':1.8},g);
 
 
 let lt=tx(865,s.top+20,s.name,{'text-anchor':'end','font-size':15},g);
 
 
 mk('line',{x1:868,y1:s.top+15,x2:881,y2:s.top+15,stroke:s.color,'stroke-width':2},g);
});
nXTicks.forEach(d=>{
 let t=tx(xN(d),1254,String(Math.abs(d)),{'text-anchor':'middle','font-size':14},g);
 
 
});
let e=tx(791,1276,'relative distance from peak center',{'text-anchor':'middle','font-size':15},g);


e=tx(0,0,'position frequencies',{'text-anchor':'middle','font-size':17,transform:'translate(660,1047) rotate(-90)'},g);


})();
</script>
</body></html>
